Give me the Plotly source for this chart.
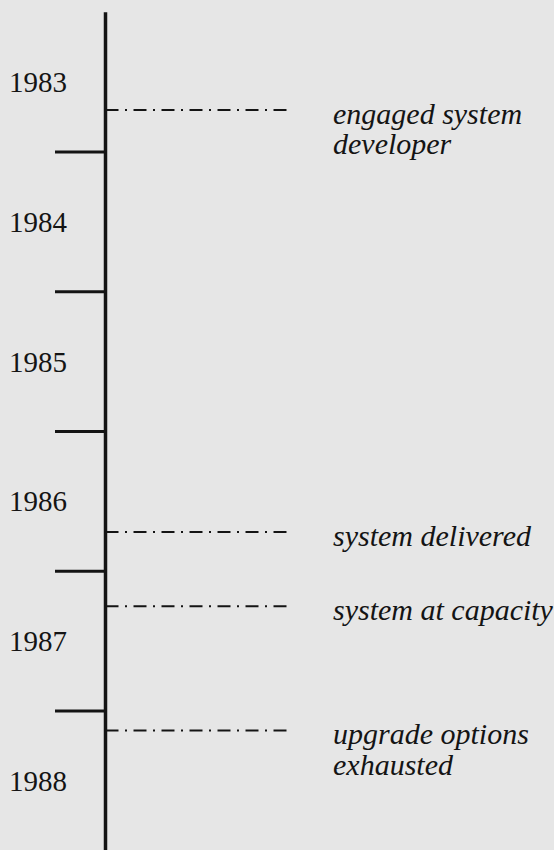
import plotly.graph_objects as go

# ---- data ----
year_labels = [1983, 1984, 1985, 1986, 1987, 1988]
year_boundaries = [1984, 1985, 1986, 1987, 1988]
axis_span = [1983, 1989]
event_times = [1983.70, 1986.72, 1987.25, 1988.14]
event_labels = ["engaged system<br>developer", "system delivered",
                "system at capacity", "upgrade options<br>exhausted"]

# ---- style / layout constants ----
W, H = 554, 850
BG = "#e6e6e6"
INK = "#141414"
PX_PER_YEAR = 139.75
Y_TOP_PX_YEAR = 1984 - 152 / PX_PER_YEAR          # year value at top of image
Y_BOT_PX_YEAR = Y_TOP_PX_YEAR + H / PX_PER_YEAR   # year value at bottom

AXIS_X = 105.5
TICK_X0 = 55
EVENT_X1 = 289
LABEL_X = 331
YEAR_X = 38
LINE_GAP = 30.5
FONT_SERIF = "Liberation Serif, Times New Roman, serif"

fig = go.Figure()

# main time axis
fig.add_trace(go.Scatter(x=[AXIS_X, AXIS_X], y=axis_span, mode="lines",
                         line=dict(color=INK, width=3.5), hoverinfo="skip",
                         showlegend=False))

# year boundary ticks
for t in year_boundaries:
    fig.add_trace(go.Scatter(x=[TICK_X0, AXIS_X + 1], y=[t, t], mode="lines",
                             line=dict(color=INK, width=3), hoverinfo="skip",
                             showlegend=False))

# event dash-dot lines
for e in event_times:
    fig.add_trace(go.Scatter(x=[AXIS_X, EVENT_X1], y=[e, e], mode="lines",
                             line=dict(color=INK, width=2,
                                       dash="13px,6.5px,2px,6.5px"),
                             hoverinfo="skip", showlegend=False))

annotations = []
# year labels (centered within each year)
for yr in year_labels:
    annotations.append(dict(x=YEAR_X, y=yr + 0.5, xref="x", yref="y",
                            text=str(yr), showarrow=False,
                            xanchor="center", yanchor="middle",
                            font=dict(family=FONT_SERIF, size=29, color=INK)))

# event labels (one annotation per text line for tight line spacing)
for e, lab in zip(event_times, event_labels):
    for i, line in enumerate(lab.split("<br>")):
        annotations.append(dict(x=LABEL_X, y=e, xref="x", yref="y",
                                text="<i>" + line + "</i>", showarrow=False,
                                xanchor="left", yanchor="middle",
                                yshift=-3 - LINE_GAP * i,
                                font=dict(family=FONT_SERIF, size=30,
                                          color=INK)))

fig.update_layout(
    width=W, height=H,
    margin=dict(l=0, r=0, t=0, b=0),
    paper_bgcolor=BG, plot_bgcolor=BG,
    xaxis=dict(range=[0, W], visible=False, fixedrange=True),
    yaxis=dict(range=[Y_BOT_PX_YEAR, Y_TOP_PX_YEAR], visible=False,
               fixedrange=True),
    annotations=annotations,
    showlegend=False,
)

fig.write_html("out.html", config={"displayModeBar": False},
               post_script="document.body.style.margin='0';"
                           "document.body.style.background='" + BG + "';")
